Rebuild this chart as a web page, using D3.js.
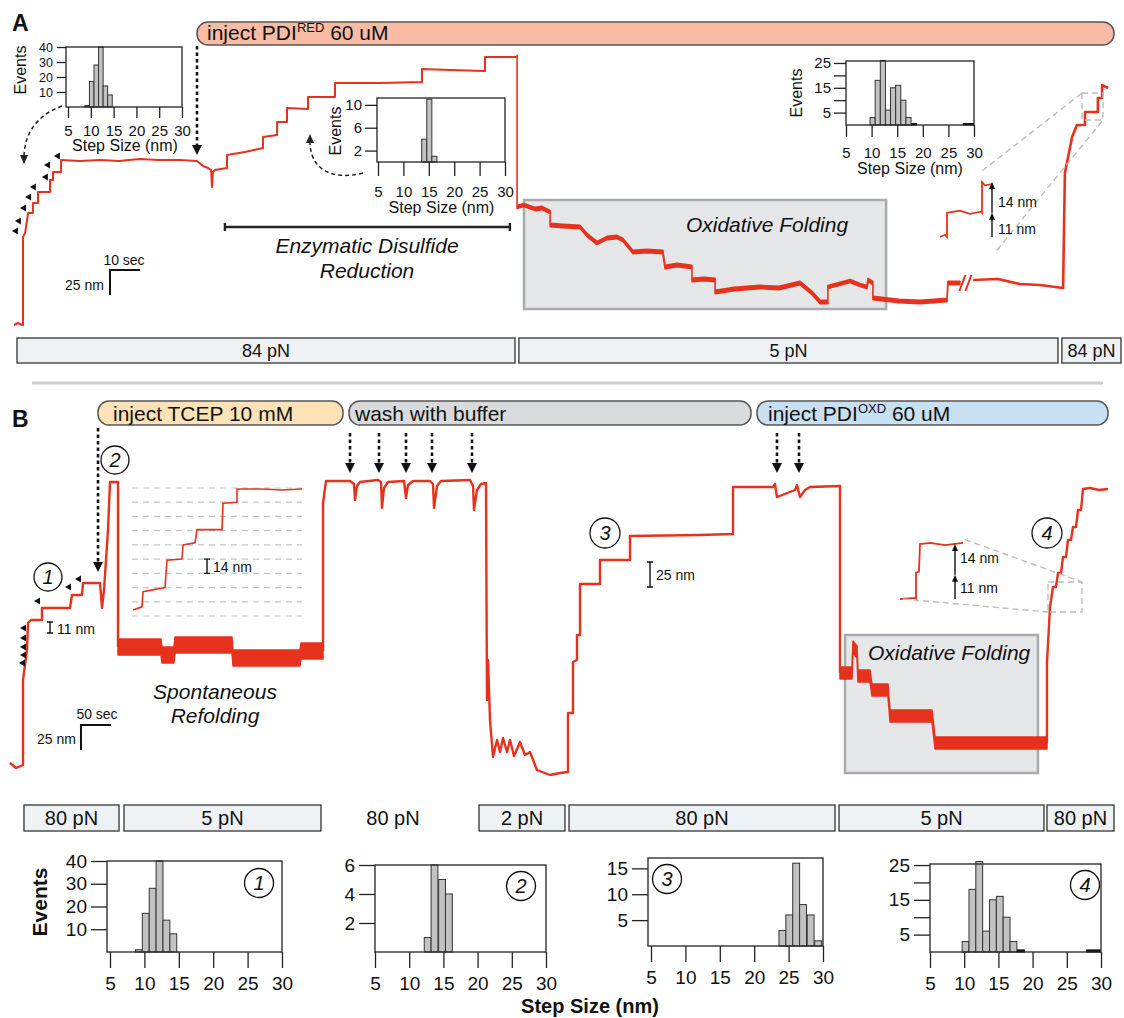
<!DOCTYPE html>
<html><head><meta charset="utf-8">
<script src="https://cdn.jsdelivr.net/npm/d3@7"></script>
<style>body{margin:0;background:#fff}svg{display:block}</style>
</head><body><svg id="c" width="1124" height="1018"></svg>
<script>
// ===== DATA (time in s, extension in nm) =====
// Panel A trace: 84 pN unfolding + PDI reduction
const traceA84 = [[0,0],[1.3,2],[2.7,0],[3,0],[3,88],[3.7,92],[4.7,112],[6.3,112],[6.3,122],[8,122],[8,133],[12,133],[12,145],[13,145],[13,153],[15.7,153],[15.7,165],[22,164],[28.7,165],[35,164],[42,166],[48,165],[55.3,165],[61,164],[63,159],[64.7,157],[65.7,155],[66,138],[66.3,153],[67,155],[71,157],[71,170],[77,173],[83,177],[83,188],[87.7,190],[87.7,203],[91,203],[91,217],[98,216],[98,228],[107,228],[107,242],[122,242],[136,243],[136,256],[145.3,255],[157,254],[157,268],[167.7,268]];
// Panel A trace: 5 pN oxidative folding
const traceA5 = [[167.7,268],[167.7,118],[170,120],[173.7,116],[176,117],[178.7,113],[178.7,100],[183,99],[188.7,98],[191,90],[194.3,82],[197.7,87],[201,88],[203,85],[206.3,73],[211,74],[216.3,73],[217,58],[221,60],[226,58],[226,45],[230,46],[233.7,45],[233.7,33],[240,36],[248.7,38],[255,37],[262,42],[266,32],[268.7,23],[271.3,23],[271.3,38],[278.7,44],[282,40],[284.3,38],[284.7,45],[286.3,42],[286.3,27],[295,24],[302,23],[311,25],[311.3,42],[315.3,42]];
// Panel A trace after the axis break: back to 84 pN
const traceAEnd = [[319.7,45],[328,46],[335.3,41],[342,40],[349.7,37],[350.3,152],[352.7,188],[354.3,200],[357,200],[357,213],[361.3,213],[361.3,227],[362.7,227],[362.7,240],[364.7,237]];
const insetA = [[0,0],[0.5,1],[0.7,0],[0.7,11],[2,12],[3,10.5],[4.1,11.5],[4.2,11],[4.2,25],[4.5,23.5],[5.2,24]];
const markA = [[0.3,94],[1.3,104],[3,117],[4.7,128],[6.3,138],[10.3,148],[11,160],[14.3,169]];
const injectA = [61];
const forceA = [{label:"84 pN",t0:1,t1:167},{label:"5 pN",t0:168.3,t1:348},{label:"84 pN",t0:349.3,t1:369}];

// Panel B trace
const traceB1 = [[0,7],[10,2],[21.7,5],[21.7,90],[28.3,120],[30,147],[35,150],[53.3,150],[53.3,162],[100,162],[103.3,175],[120,175],[121.7,187],[150,187],[153.3,162],[156.7,180],[163.3,240],[166.7,288],[180,288],[180,123]];
const refoldB = [[180,123],[251.7,123],[253.3,115],[273.3,115],[275,125],[370,125],[371.7,112],[483.3,112],[485,119],[521.7,119]];
const traceB2 = [[521.7,119],[521.7,267],[526.7,289],[566.7,289],[573.3,286],[575,270],[578.3,284],[583.3,288],[613.3,290],[618.3,288],[620,262],[623.3,282],[630,288],[656.7,289],[660,272],[663.3,285],[671.7,289],[700,289],[705,286],[706.7,262],[711.7,284],[718.3,289],[766.7,290],[771.7,284],[773.3,260],[778.3,280],[785,286],[793.3,287],[795,70],[796.7,110],[800,50],[805,13],[811.7,30],[816.7,18],[821.7,32],[828.3,18],[833.3,30],[840,14],[850,28],[858.3,15],[866.7,18],[878.3,0],[900,-5],[916.7,-3],[930,-2],[930,57],[938.3,57],[938.3,108],[945,110],[945,135],[950,135],[950,186],[983.3,186],[983.3,210],[1033.3,210],[1033.3,234],[1150,235],[1205,236],[1205,283],[1271.7,283],[1275,286],[1278.3,273],[1308.3,280],[1311.7,285],[1316.7,273],[1325,280],[1333.3,283],[1383.3,284],[1383.3,97]];
const oxB = [[1383.3,97],[1403.3,97],[1405,123],[1411.7,118],[1413.3,94],[1433.3,94],[1436.7,80],[1463.3,80],[1466.7,54],[1536.7,54],[1541.7,27],[1728.3,27]];
const traceB3 = [[1728.3,27],[1728.3,107],[1733.3,163],[1738.3,183],[1743.3,183],[1746.7,197],[1751.7,197],[1755,213],[1760,213],[1763.3,230],[1768.3,230],[1771.7,243],[1776.7,243],[1780,260],[1785,260],[1788.3,281],[1800,282],[1815,280],[1830,281]];
const insetB = [[1,6],[10,9],[11,24],[33,28],[35,55],[50,56],[51,70],[63,72],[65,85],[90,85],[91,111],[105,112],[105,125],[130,125],[150,124],[170,125]];
const insetBLevels = [0,14,28,42,56,70,84,98,112,126];
const insetB2 = [[0,0],[15,0.5],[16,0],[16,12],[19,12.5],[20,25],[30,25.5],[45,24.5],[63,25.5]];
const markB = [[20,107],[21.7,115],[21.7,123],[21.7,132],[21.7,142],[45,169],[96.7,183],[113.3,191]];
const injectTCEP = [146.7];
const washB = [566.7,615,660,703.3,770];
const pdiB = [1278.3,1315];
const forceB = [{label:"80 pN",t0:23.3,t1:181.7},{label:"5 pN",t0:190,t1:518.3},{label:"2 pN",t0:781.7,t1:925},{label:"80 pN",t0:931.7,t1:1375},{label:"5 pN",t0:1381.7,t1:1723.3},{label:"80 pN",t0:1728.3,t1:1840}];
const forceBFree = [{label:"80 pN",t:638.3}];

// Histograms (bin left edge in nm, bin width 1 nm, counts)
const stepTicks = [5,10,15,20,25,30];
const h1Edges = [8.7,9.7,10.7,11.7,12.7,13.7], h1Counts = [1,17,28,40,14,8];
const hA2Edges = [13.6,14.6,15.6], hA2Counts = [4,11,1];
const h4Edges = [9.7,10.7,11.7,12.7,13.7,14.7,15.7,16.7], h4Counts = [3,18,26,6,15,16,10,3];
const h4Rare = [[17.8,1,0.6],[27.9,2,0.6]]; // [edge, width, count] black bins
const hB2Edges = [12.2,13.2,14.3,15.3], hB2Counts = [1,6,5,4];
const hB3Edges = [23.6,24.6,25.6,26.6,27.7,28.8], hB3Counts = [3,6,16,8,6,1];

// ===== DRAWING =====
const FONT = "'Liberation Sans', Arial, Helvetica, sans-serif";
const RED = "#e6321d";
const svg = d3.select("#c").attr("font-family", FONT);

const xA = d3.scaleLinear().domain([0,370]).range([14,1124]);
const yA = d3.scaleLinear().domain([0,320]).range([325,5]);
const xB = d3.scaleLinear().domain([0,1860]).range([10,1126]);
const yB = d3.scaleLinear().domain([0,400]).range([770,370]);
const lineA = d3.line().x(d=>xA(d[0])).y(d=>yA(d[1]));
const lineB = d3.line().x(d=>xB(d[0])).y(d=>yB(d[1]));
function bandB(half){ return d3.area().x(d=>xB(d[0])).y0(d=>yB(d[1])-half).y1(d=>yB(d[1])+half); }
function bandA(half){ return d3.area().x(d=>xA(d[0])).y0(d=>yA(d[1])-half).y1(d=>yA(d[1])+half); }

function txt(x,y,s,opt={}){
  const t = svg.append("text").attr("x",x).attr("y",y).text(s)
    .attr("font-size",opt.fs||14).attr("fill",opt.fill||"#111")
    .attr("text-anchor",opt.anchor||"start");
  if(opt.italic) t.attr("font-style","italic");
  if(opt.bold) t.attr("font-weight","bold");
  return t;
}
function bubble(x0,x1,y0,y1,fill,parts,tx,ty){
  svg.append("rect").attr("x",x0).attr("y",y0).attr("width",x1-x0).attr("height",y1-y0)
    .attr("rx",11).attr("fill",fill).attr("stroke","#555").attr("stroke-width",1.5);
  const t = svg.append("text").attr("x",tx).attr("y",ty).attr("font-size",21).attr("fill","#111");
  parts.forEach(p=>{
    const s = t.append("tspan").text(p.t);
    if(p.sup) s.attr("font-size",13).attr("dy",-8);
    if(p.down) s.attr("dy",8);
  });
}
function injArrow(x,y0,yTip){
  svg.append("line").attr("x1",x).attr("x2",x).attr("y1",y0).attr("y2",yTip-8)
    .attr("stroke","#111").attr("stroke-width",2.6).attr("stroke-dasharray","3.5,3");
  svg.append("path").attr("d",`M${x},${yTip} l-5,-10 l10,0 z`).attr("fill","#111");
}
function triLeft(x,y){ svg.append("path").attr("d",`M${x},${y} l6,-3.5 l0,7 z`).attr("fill","#111"); }
function circNum(x,y,s,r=14){
  svg.append("circle").attr("cx",x).attr("cy",y).attr("r",r).attr("fill","none").attr("stroke","#111").attr("stroke-width",1.3);
  txt(x,y+7,s,{fs:20,italic:true,anchor:"middle"});
}
function ibar(x,y0,y1){
  svg.append("path").attr("d",`M${x-3},${y0}H${x+3}M${x},${y0}V${y1}M${x-3},${y1}H${x+3}`)
    .attr("stroke","#111").attr("stroke-width",1.4).attr("fill","none");
}
function upArrow(x,yFrom,yTo){
  svg.append("line").attr("x1",x).attr("x2",x).attr("y1",yFrom).attr("y2",yTo+5).attr("stroke","#111").attr("stroke-width",1.4);
  svg.append("path").attr("d",`M${x},${yTo} l-3,7 l6,0 z`).attr("fill","#111");
}
function dashed(x1,y1,x2,y2){
  svg.append("line").attr("x1",x1).attr("y1",y1).attr("x2",x2).attr("y2",y2)
    .attr("stroke","#bdbdbd").attr("stroke-width",1.4).attr("stroke-dasharray","6,4");
}
function dashedRect(x0,y0,x1,y1){
  svg.append("rect").attr("x",x0).attr("y",y0).attr("width",x1-x0).attr("height",y1-y0)
    .attr("fill","none").attr("stroke","#bdbdbd").attr("stroke-width",1.4).attr("stroke-dasharray","6,4");
}
function forceBox(x0,x1,y0,y1,label,fs){
  svg.append("rect").attr("x",x0).attr("y",y0).attr("width",x1-x0).attr("height",y1-y0)
    .attr("fill","#eef2f4").attr("stroke","#333").attr("stroke-width",1.3);
  txt((x0+x1)/2,(y0+y1)/2+fs*0.36,label,{fs,anchor:"middle"});
}

function drawHist(c){
  const xs = d3.scaleLinear().domain([5,30]).range(c.xr);
  const ys = d3.scaleLinear().domain([0,c.ymax]).range(c.yr);
  const g = svg.append("g");
  const bars = c.edges.map((e,i)=>({e,w:1,c:c.counts[i],black:false}));
  (c.rare||[]).forEach(r=>bars.push({e:r[0],w:r[1],c:r[2],black:true}));
  g.selectAll("rect.bar").data(bars).join("rect").attr("class","bar")
    .attr("x",d=>xs(d.e)).attr("width",d=>xs(d.e+d.w)-xs(d.e))
    .attr("y",d=>ys(d.c)).attr("height",d=>ys(0)-ys(d.c))
    .attr("fill",d=>d.black?"#111":"#c2c2c2").attr("stroke",d=>d.black?"#111":"#333").attr("stroke-width",1);
  g.append("rect").attr("x",c.frameL).attr("y",ys(c.ymax)).attr("width",c.xr[1]-c.frameL)
    .attr("height",ys(0)-ys(c.ymax)).attr("fill","none").attr("stroke","#222").attr("stroke-width",1.3);
  const ax = g.append("g").attr("transform",`translate(0,${ys(0)})`)
    .call(d3.axisBottom(xs).tickValues(stepTicks).tickSize(c.tickX).tickPadding(c.labelBase-c.tickX-0.71*c.fs));
  const ay = g.append("g").attr("transform",`translate(${c.frameL},0)`)
    .call(d3.axisLeft(ys).tickValues(c.yticks).tickSize(c.tickY).tickPadding(c.padY)
      .tickFormat(d=>(c.ylabels||c.yticks).includes(d)?d:""));
  ax.attr("font-size",c.fs);
  ay.attr("font-size",c.yfs||c.fs);
  [ax,ay].forEach(a=>{
    a.attr("font-family",FONT);
    a.select(".domain").remove();
    a.selectAll(".tick line").attr("stroke","#222").attr("stroke-width",1.3);
    a.selectAll("text").attr("fill","#111");
  });
  if(c.title){
    txt((c.xr[0]+c.xr[1])/2, ys(0)+c.titleBase, "Step Size (nm)", {fs:c.tfs,anchor:"middle"});
  }
  if(c.events){
    svg.append("text").attr("transform",`translate(${c.events[0]},${c.events[1]}) rotate(-90)`)
      .attr("text-anchor","middle").attr("dominant-baseline","central").attr("font-size",c.tfs).attr("fill","#111").text("Events");
  }
  if(c.num) circNum(c.num[0],c.num[1],c.num[2],14.5);
}

// ---------- Panel A ----------
txt(12,31,"A",{fs:23,bold:true});
bubble(197,1114,22,45,"#f9bba4",[{t:"inject PDI"},{t:"RED",sup:true},{t:" 60 uM",down:true}],207,40);
// Oxidative folding box
svg.append("rect").attr("x",xA(170)).attr("y",yA(125)).attr("width",xA(290.7)-xA(170)).attr("height",yA(16)-yA(125))
  .attr("fill","#e4e6e8").attr("stroke","#aaaaaa").attr("stroke-width",2.5);
txt(767,232,"Oxidative Folding",{fs:21,italic:true,anchor:"middle"});
// Traces
svg.append("path").datum(traceA84).attr("d",lineA).attr("fill","none").attr("stroke",RED).attr("stroke-width",2).attr("stroke-linejoin","round");
svg.append("path").datum(traceA5).attr("d",bandA(1.6)).attr("fill",RED).attr("stroke",RED).attr("stroke-width",1.6).attr("stroke-linejoin","round");
svg.append("path").datum(traceAEnd).attr("d",lineA).attr("fill","none").attr("stroke",RED).attr("stroke-width",2.6).attr("stroke-linejoin","round");
// axis break marks
{
  const bx = xA(316.8), by = yA(42);
  svg.append("path").attr("d",`M${bx-5},${by+8}L${bx+1},${by-8}M${bx+1},${by+8}L${bx+7},${by-8}`)
    .attr("stroke",RED).attr("stroke-width",2).attr("fill","none");
}
markA.forEach(d=>triLeft(xA(d[0])-3,yA(d[1])));
injectA.forEach(t=>injArrow(xA(t),46,yA(170)));
// Enzymatic bar
{
  const x0 = xA(70.3), x1 = xA(165.3), y = yA(98);
  svg.append("path").attr("d",`M${x0},${y-4}V${y+4}M${x0},${y}H${x1}M${x1},${y-4}V${y+4}`)
    .attr("stroke","#222").attr("stroke-width",2.4).attr("fill","none");
  txt(367,253,"Enzymatic Disulfide",{fs:21,italic:true,anchor:"middle"});
  txt(367,278,"Reduction",{fs:21,italic:true,anchor:"middle"});
}
// scale bar A
{
  const cx = xA(32), cy = yA(55);
  svg.append("path").attr("d",`M${xA(42)},${cy}H${cx}V${yA(30)}`).attr("stroke","#111").attr("stroke-width",2).attr("fill","none");
  txt(124,265,"10 sec",{fs:14,anchor:"middle"});
  txt(104,290,"25 nm",{fs:14,anchor:"end"});
}
// curved dashed arrows
svg.append("path").attr("d","M62,106 C40,114 25,130 24,156").attr("fill","none").attr("stroke","#222").attr("stroke-width",1.5).attr("stroke-dasharray","4,3");
svg.append("path").attr("d","M24,164 l-4,-9 l8,0 z").attr("fill","#222");
svg.append("path").attr("d","M363,173 C335,180 311,172 310,143").attr("fill","none").attr("stroke","#222").attr("stroke-width",1.5).attr("stroke-dasharray","4,3");
svg.append("path").attr("d","M310,134 l-4,9 l8,0 z").attr("fill","#222");
// inset A
{
  const xi = d3.scaleLinear().domain([0,5.2]).range([940,992]);
  const yi = d3.scaleLinear().domain([0,30]).range([237,171]);
  svg.append("path").datum(insetA).attr("d",d3.line().x(d=>xi(d[0])).y(d=>yi(d[1])))
    .attr("fill","none").attr("stroke",RED).attr("stroke-width",1.8);
  dashed(xi(4.2),yi(30),xA(356),yA(232));
  dashed(xi(5.7),yi(-6),xA(363),yA(205));
  dashedRect(xA(356),yA(232),xA(363),yA(205));
  upArrow(xi(5.2),yi(0),yi(11));
  upArrow(xi(5.2),yi(11),yi(25));
  txt(998,207,"14 nm",{fs:14});
  txt(998,234,"11 nm",{fs:14});
}
// histograms A
drawHist({frameL:66,xr:[68,182],yr:[107,47],ymax:40,edges:h1Edges,counts:h1Counts,yticks:[10,20,30,40],
  tickY:9,padY:4,tickX:11,labelBase:29,fs:15,yfs:12.5,title:true,titleBase:44,tfs:16,events:[20,70]});
drawHist({frameL:377,xr:[378,505],yr:[162,98],ymax:11.2,edges:hA2Edges,counts:hA2Counts,yticks:[2,6,10],
  tickY:12,padY:3,tickX:14,labelBase:35,fs:15,title:true,titleBase:51,tfs:16,events:[335,131]});
drawHist({frameL:846,xr:[846,974],yr:[125,61],ymax:25.8,edges:h4Edges,counts:h4Counts,rare:h4Rare,yticks:[5,10,15,20,25],ylabels:[5,15,25],
  tickY:12,padY:3,tickX:12,labelBase:33,fs:15,title:true,titleBase:49,tfs:16,events:[796,93]});
// force bars A
forceA.forEach(f=>forceBox(xA(f.t0),xA(f.t1),338,363,f.label,18));
// separator
svg.append("line").attr("x1",32).attr("x2",1103).attr("y1",383).attr("y2",383).attr("stroke","#cccccc").attr("stroke-width",3);

// ---------- Panel B ----------
txt(12,427,"B",{fs:23,bold:true});
bubble(98,343,401,425,"#fde2b8",[{t:"inject TCEP 10 mM"}],113,421);
bubble(349,751,401,425,"#d9dadc",[{t:"wash with buffer"}],355,421);
bubble(757,1108,401,425,"#c9e0f3",[{t:"inject PDI"},{t:"OXD",sup:true},{t:" 60 uM",down:true}],768,421);
// oxidative folding box B
svg.append("rect").attr("x",xB(1391.7)).attr("y",yB(135)).attr("width",xB(1713.3)-xB(1391.7)).attr("height",yB(-3)-yB(135))
  .attr("fill","#e4e6e8").attr("stroke","#aaaaaa").attr("stroke-width",2.5);
txt(868,660,"Oxidative Folding",{fs:21,italic:true});
// inset B staircase
{
  const xi = d3.scaleLinear().domain([0,170]).range([132,302]);
  const yi = d3.scaleLinear().domain([0,126]).range([616,488]);
  svg.selectAll("line.lvl").data(insetBLevels).join("line").attr("class","lvl")
    .attr("x1",xi(0)).attr("x2",xi(170)).attr("y1",d=>yi(d)).attr("y2",d=>yi(d))
    .attr("stroke","#c4c4c4").attr("stroke-width",1.2).attr("stroke-dasharray","6,5");
  svg.append("path").datum(insetB).attr("d",d3.line().x(d=>xi(d[0])).y(d=>yi(d[1])))
    .attr("fill","none").attr("stroke",RED).attr("stroke-width",1.6);
  ibar(xi(75),yi(56),yi(42));
  txt(213,572,"14 nm",{fs:14});
}
// traces B
[traceB1,traceB2,traceB3].forEach(tr=>svg.append("path").datum(tr).attr("d",lineB).attr("fill","none")
  .attr("stroke",RED).attr("stroke-width",2.4).attr("stroke-linejoin","round"));
svg.append("path").datum(refoldB).attr("d",bandB(8)).attr("fill",RED).attr("stroke",RED).attr("stroke-width",1.5).attr("stroke-linejoin","round");
svg.append("path").datum(oxB).attr("d",bandB(6)).attr("fill",RED).attr("stroke",RED).attr("stroke-width",1.5).attr("stroke-linejoin","round");
markB.forEach(d=>triLeft(xB(d[0])-3,yB(d[1])));
injectTCEP.forEach(t=>injArrow(xB(t),428,572));
washB.concat(pdiB).forEach(t=>injArrow(xB(t),433,473));
circNum(48,577,"1");
circNum(115,460,"2");
circNum(605,533,"3",15);
circNum(1047,533,"4",15);
ibar(xB(66.7),yB(148),yB(137));
txt(57,634,"11 nm",{fs:14});
ibar(xB(1066.7),yB(208),yB(183));
txt(656,580,"25 nm",{fs:14});
txt(215,699,"Spontaneous",{fs:21,italic:true,anchor:"middle"});
txt(215,723,"Refolding",{fs:21,italic:true,anchor:"middle"});
// scale bar B
{
  const cx = xB(118.3), cy = yB(45);
  svg.append("path").attr("d",`M${xB(168.3)},${cy}H${cx}V${yB(20)}`).attr("stroke","#111").attr("stroke-width",2).attr("fill","none");
  txt(97,719,"50 sec",{fs:14,anchor:"middle"});
  txt(76,744,"25 nm",{fs:14,anchor:"end"});
}
// inset B right
{
  const xi = d3.scaleLinear().domain([0,63]).range([900,963]);
  const yi = d3.scaleLinear().domain([0,30]).range([599,533]);
  svg.append("path").datum(insetB2).attr("d",d3.line().x(d=>xi(d[0])).y(d=>yi(d[1])))
    .attr("fill","none").attr("stroke",RED).attr("stroke-width",1.8);
  dashed(xi(65),yi(27),xB(1786.7),yB(188));
  dashed(xi(3),yi(0),xB(1730),yB(158));
  dashedRect(xB(1730),yB(188),xB(1786.7),yB(158));
  upArrow(xi(55),yi(0),yi(11));
  upArrow(xi(55),yi(11),yi(25));
  txt(960,563,"14 nm",{fs:14});
  txt(960,593,"11 nm",{fs:14});
}
// force bars B
forceB.forEach(f=>forceBox(xB(f.t0),xB(f.t1),805,831,f.label,20));
forceBFree.forEach(f=>txt(xB(f.t),825,f.label,{fs:20,anchor:"middle"}));
// histograms B
const bcfg = {tickY:16,padY:4,tickX:16,labelBase:38,fs:19};
drawHist(Object.assign({},bcfg,{frameL:107,xr:[110,282],yr:[952,861],ymax:40,edges:h1Edges,counts:h1Counts,yticks:[10,20,30,40],num:[259,883,"1"]}));
drawHist(Object.assign({},bcfg,{frameL:375,xr:[375,546],yr:[952,865],ymax:6,edges:hB2Edges,counts:hB2Counts,yticks:[2,4,6],num:[521,886,"2"]}));
drawHist(Object.assign({},bcfg,{frameL:648,xr:[651,823],yr:[946,858],ymax:17,edges:hB3Edges,counts:hB3Counts,yticks:[5,10,15],num:[667,879,"3"]}));
drawHist(Object.assign({},bcfg,{frameL:930,xr:[930,1101],yr:[952,864],ymax:25.3,edges:h4Edges,counts:h4Counts,rare:h4Rare,yticks:[5,10,15,20,25],ylabels:[5,15,25],num:[1085,885,"4"]}));
svg.append("text").attr("transform","translate(39,902) rotate(-90)").attr("text-anchor","middle")
  .attr("dominant-baseline","central").attr("font-size",21).attr("font-weight","bold").attr("fill","#111").text("Events");
txt(590,1013,"Step Size (nm)",{fs:20,bold:true,anchor:"middle"});
</script></body></html>
